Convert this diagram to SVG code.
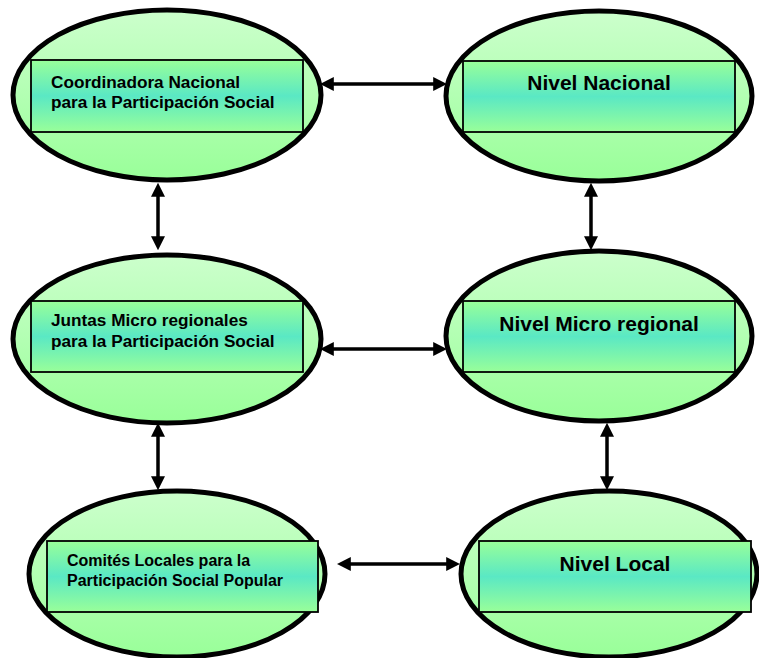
<svg xmlns="http://www.w3.org/2000/svg" width="759" height="658" viewBox="0 0 759 658">
<style>
.ell{fill:url(#eg);stroke:#000;stroke-width:5}
.box{fill:url(#bg);stroke:#000;stroke-width:1.8}
.t{font-family:"Liberation Sans",Arial,sans-serif;font-weight:bold;fill:#000}
.s{font-size:17.2px}
.s2{font-size:16px}
.big{font-size:21px;text-anchor:middle}
.c{stroke:#000;stroke-width:3.5;fill:none;marker-start:url(#ah);marker-end:url(#ah)}
</style>
<defs>
<linearGradient id="eg" x1="0" y1="0" x2="0" y2="1">
<stop offset="0" stop-color="#ccffcc"/>
<stop offset="1" stop-color="#99ff99"/>
</linearGradient>
<linearGradient id="bg" x1="0" y1="0" x2="0" y2="1">
<stop offset="0" stop-color="#99ff99"/>
<stop offset="0.5" stop-color="#5ae8c4"/>
<stop offset="1" stop-color="#99ff99"/>
</linearGradient>
<marker id="ah" viewBox="0 0 10 10" refX="2" refY="5" markerWidth="4" markerHeight="4" orient="auto-start-reverse" markerUnits="strokeWidth">
<path d="M0,0 L10,5 L0,10 Z" fill="#000"/>
</marker>
</defs>
<g id="connectors">
<line class="c" x1="331" y1="84" x2="436" y2="84"/>
<line class="c" x1="331" y1="349" x2="436" y2="349"/>
<line class="c" x1="348" y1="564" x2="449" y2="564"/>
<line class="c" x1="158" y1="194" x2="158" y2="239"/>
<line class="c" x1="591" y1="194" x2="591" y2="239"/>
<line class="c" x1="158" y1="434" x2="158" y2="479"/>
<line class="c" x1="607" y1="434" x2="607" y2="479"/>
</g>
<g id="n1">
<ellipse class="ell" cx="167" cy="95" rx="154" ry="85"/>
<rect class="box" x="31" y="60" width="272" height="72"/>
<text class="t s" x="51" y="88">Coordinadora Nacional</text>
<text class="t s" x="51" y="108">para la Participación Social</text>
</g>
<g id="n2">
<ellipse class="ell" cx="599" cy="96" rx="153" ry="85"/>
<rect class="box" x="463" y="61" width="272" height="71"/>
<text class="t big" x="599" y="90">Nivel Nacional</text>
</g>
<g id="n3">
<ellipse class="ell" cx="167" cy="339" rx="154" ry="84"/>
<rect class="box" x="31" y="301" width="272" height="71"/>
<text class="t s" x="51" y="326">Juntas Micro regionales</text>
<text class="t s" x="51" y="347">para la Participación Social</text>
</g>
<g id="n4">
<ellipse class="ell" cx="599" cy="336" rx="153" ry="85"/>
<rect class="box" x="463" y="301" width="272" height="71"/>
<text class="t big" x="599" y="331">Nivel Micro regional</text>
</g>
<g id="n5">
<ellipse class="ell" cx="177" cy="574" rx="148" ry="83"/>
<rect class="box" x="47" y="541" width="271" height="71"/>
<text class="t s2" x="67" y="566">Comités Locales para la</text>
<text class="t s2" x="67" y="586">Participación Social Popular</text>
</g>
<g id="n6">
<ellipse class="ell" cx="609" cy="574" rx="148" ry="83"/>
<rect class="box" x="479" y="541" width="272" height="71"/>
<text class="t big" x="615" y="571">Nivel Local</text>
</g>
</svg>
